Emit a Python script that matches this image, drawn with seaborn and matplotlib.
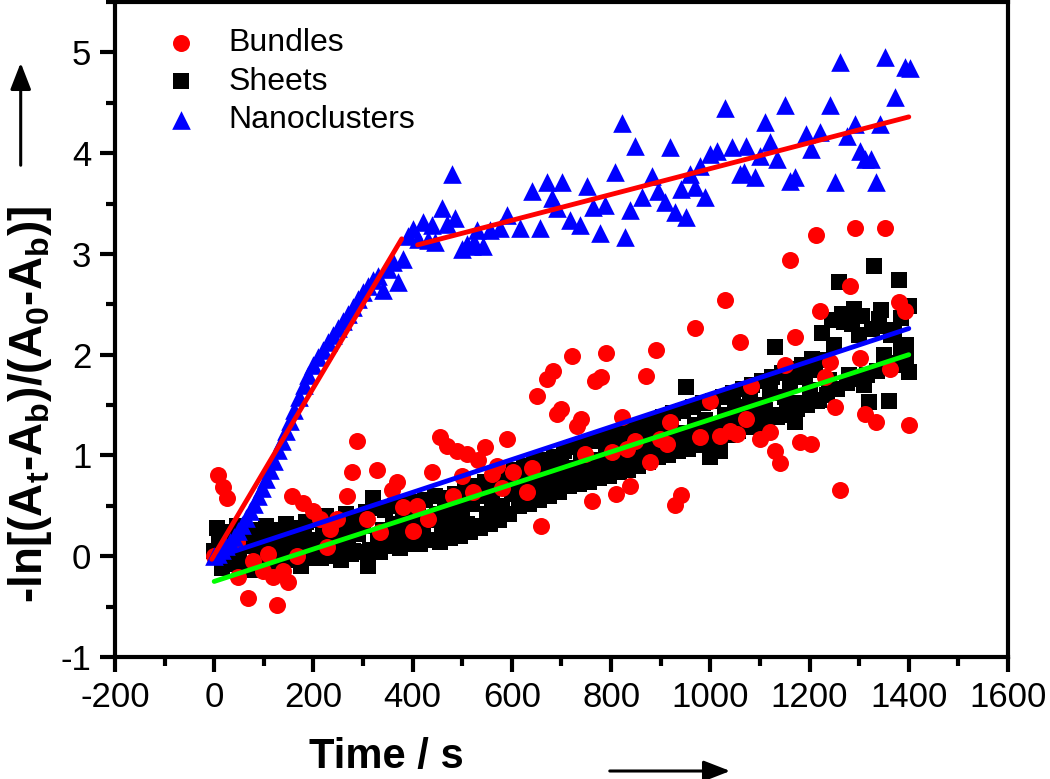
import matplotlib
matplotlib.use('Agg')
import matplotlib.pyplot as plt
from matplotlib.patches import FancyArrowPatch
from matplotlib.ticker import MultipleLocator
import seaborn as sns
import pandas as pd

# ---- values ----
# Sheets (black squares): two interleaved runs, every 10 s, plus stray points
sheets_t = (list(range(0, 1401, 10)) + list(range(5, 1400, 10))
            + [1395, 1400, 1265, 1340, 1385])
sheets_y = [
    # t = 0 .. 1400 step 10
    0.05, 0.18, -0.05, 0.12, 0.22, 0.02, 0.15, -0.08, 0.10, 0.20,
    0.00, 0.14, 0.06, 0.22, -0.04, 0.12, 0.18, 0.05, 0.24, 0.10,
    0.16, 0.02, 0.25, 0.12, 0.20, 0.08, 0.28, 0.15, 0.05, 0.22,
    0.30, -0.10, 0.58, 0.18, 0.26, 0.10, 0.32, 0.20, 0.35, 0.14,
    0.28, 0.40, 0.22, 0.36, 0.16, 0.42, 0.30, 0.45, 0.25, 0.38,
    0.48, 0.32, 0.52, 0.30, 0.60, 0.42, 0.55, 0.68, 0.50, 0.72,
    0.62, 0.78, 0.58, 0.70, 0.84, 0.65, 0.76, 0.90, 0.70, 0.82,
    0.95, 0.74, 0.88, 0.80, 1.00, 0.85, 0.78, 0.96, 0.90, 1.04,
    0.88, 1.08, 0.95, 1.12, 0.92, 1.02, 1.15, 0.98, 1.10, 1.22,
    1.05, 1.18, 1.28, 1.10, 1.22, 1.68, 1.15, 1.30, 1.20, 1.35,
    0.98, 1.28, 1.04, 1.40, 1.25, 1.48, 1.32, 1.42, 1.55, 1.36,
    1.50, 1.45, 1.62, 2.08, 1.40, 1.58, 1.70, 1.33, 1.52, 1.78,
    1.65, 1.85, 1.55, 1.95, 1.75, 2.10, 2.72, 2.32, 1.80, 2.45,
    2.20, 1.70, 1.53, 2.88, 2.35, 2.00, 1.54, 2.25, 2.74, 1.90,
    2.48,
    # t = 5 .. 1395 step 10
    0.28, -0.12, 0.24, -0.08, 0.30, -0.10, 0.22, -0.14, 0.26, -0.06,
    0.30, -0.08, 0.26, -0.12, 0.32, -0.04, 0.28, -0.10, 0.34, -0.02,
    0.36, -0.02, 0.40, 0.00, 0.34, -0.04, 0.42, 0.02, 0.38, 0.04,
    0.44, 0.06, 0.48, 0.04, 0.46, 0.10, 0.50, 0.08, 0.52, 0.12,
    0.54, 0.12, 0.56, 0.16, 0.60, 0.14, 0.58, 0.18, 0.62, 0.20,
    0.66, 0.24, 0.70, 0.28, 0.74, 0.32, 0.78, 0.36, 0.80, 0.42,
    0.86, 0.50, 0.90, 0.52, 0.94, 0.56, 0.96, 0.60, 0.98, 0.64,
    1.04, 0.70, 1.08, 0.72, 1.10, 0.74, 1.14, 0.78, 1.16, 0.80,
    1.20, 0.84, 1.24, 0.86, 1.26, 0.90, 1.30, 0.94, 1.34, 0.98,
    1.38, 1.00, 1.42, 1.04, 1.44, 1.06, 1.48, 1.10, 1.52, 1.12,
    1.54, 1.16, 1.58, 1.20, 1.62, 1.24, 1.66, 1.28, 1.70, 1.30,
    1.74, 1.34, 1.78, 1.38, 1.82, 1.42, 1.86, 1.46, 1.90, 1.50,
    1.96, 1.54, 2.22, 1.60, 2.34, 1.66, 2.40, 1.72, 2.30, 1.76,
    2.38, 1.80, 2.26, 1.84, 2.44, 1.88, 2.20, 1.92, 2.36, 1.96,
    # stray points
    2.10, 1.83, 2.40, 2.28, 2.05,
]

# Bundles (red circles)
bundles_t = [0, 8, 18, 26, 46, 48, 69, 79, 99, 109, 119, 127, 139, 149, 157,
             167, 179, 200, 214, 228, 234, 248, 268, 278, 288, 308, 329, 335,
             359, 369, 381, 401, 409, 431, 439, 456, 470, 482, 490, 500, 510,
             522, 532, 546, 560, 570, 580, 590, 603, 631, 641, 651, 659, 671,
             682, 691, 700, 721, 732, 740, 748, 761, 768, 780, 790, 802, 810,
             821, 832, 839, 849, 870, 879, 890, 899, 913, 919, 929, 940, 970,
             980, 1000, 1020, 1030, 1040, 1054, 1060, 1071, 1081, 1101, 1121,
             1131, 1141, 1151, 1161, 1171, 1181, 1202, 1212, 1222, 1232, 1242,
             1252, 1262, 1282, 1292, 1302, 1312, 1333, 1353, 1363, 1380, 1393,
             1400]
bundles_y = [0.00, 0.81, 0.69, 0.58, 0.14, -0.21, -0.41, -0.05, -0.15, 0.02,
             -0.21, -0.48, -0.15, -0.26, 0.60, 0.00, 0.53, 0.45, 0.37, 0.09,
             0.27, 0.37, 0.60, 0.84, 1.14, 0.37, 0.86, 0.24, 0.66, 0.74, 0.49,
             0.25, 0.50, 0.37, 0.84, 1.18, 1.09, 0.60, 1.04, 0.80, 1.01, 0.64,
             0.96, 1.08, 0.82, 0.90, 0.68, 1.16, 0.84, 0.64, 0.88, 1.59, 0.30,
             1.76, 1.84, 1.41, 1.46, 1.99, 1.29, 1.36, 1.01, 0.55, 1.74, 1.78,
             2.02, 1.03, 0.62, 1.38, 1.06, 0.70, 1.14, 1.79, 0.94, 2.05, 1.16,
             1.11, 1.33, 0.51, 0.61, 2.27, 1.18, 1.54, 1.19, 2.54, 1.24, 1.21,
             2.13, 1.36, 1.69, 1.16, 1.23, 1.04, 0.93, 1.90, 2.94, 2.18, 1.13,
             1.11, 3.19, 2.43, 1.78, 1.93, 1.48, 0.66, 2.68, 3.26, 1.97, 1.41,
             1.33, 3.26, 1.86, 2.52, 2.43, 1.30]

# Nanoclusters (blue triangles)
nano_t = [0, 8, 16, 24, 32, 40, 48, 56, 64, 72, 80, 88, 96, 104, 112, 120,
          128, 136, 144, 152, 160, 170, 180, 190, 200, 210, 220, 230, 240, 250,
          260, 270, 280, 290, 300, 310, 320, 330, 340, 350, 360, 370, 380, 390,
          400, 410, 421, 431, 440, 445, 460, 470, 480, 486, 500, 510, 520, 526,
          530, 542, 556, 577, 590, 617, 641, 657, 671, 681, 691, 702, 718, 738,
          752, 764, 778, 788, 808, 822, 828, 839, 849, 863, 883, 895, 909, 919,
          929, 940, 950, 960, 970, 980, 990, 1000, 1014, 1030, 1044, 1060,
          1067, 1071, 1091, 1101, 1111, 1121, 1135, 1151, 1161, 1171, 1192,
          1202, 1222, 1242, 1252, 1262, 1276, 1292, 1302, 1312, 1323, 1333,
          1343, 1353, 1373, 1393, 1403]
nano_y = [0.00, 0.02, 0.06, 0.10, 0.14, 0.19, 0.25, 0.31, 0.38, 0.45, 0.52,
          0.60, 0.68, 0.77, 0.86, 0.95, 1.05, 1.14, 1.24, 1.34, 1.45, 1.58,
          1.70, 1.80, 1.90, 1.98, 2.05, 2.13, 2.20, 2.27, 2.33, 2.40, 2.47,
          2.55, 2.62, 2.68, 2.74, 2.78, 2.64, 2.85, 2.92, 2.72, 2.95, 3.18,
          3.25, 3.15, 3.32, 3.14, 3.29, 3.12, 3.46, 3.30, 3.79, 3.36, 3.05,
          3.10, 3.08, 3.10, 3.24, 3.08, 3.24, 3.26, 3.39, 3.26, 3.62, 3.26,
          3.71, 3.56, 3.46, 3.71, 3.34, 3.29, 3.67, 3.47, 3.21, 3.49, 3.81,
          4.30, 3.17, 3.44, 4.07, 3.57, 3.77, 3.62, 3.52, 4.06, 3.42, 3.64,
          3.37, 3.79, 3.66, 3.87, 3.57, 3.99, 4.02, 4.45, 4.06, 3.79, 3.81,
          4.07, 3.76, 3.97, 4.31, 4.11, 3.94, 4.48, 3.72, 3.76, 4.19, 4.04,
          4.21, 4.48, 3.71, 4.90, 4.17, 4.29, 4.02, 3.94, 3.94, 3.71, 4.29,
          4.95, 4.56, 4.86, 4.85]

# linear fits (end points)
fit_nano1_t, fit_nano1_y = [-5, 378], [-0.03, 3.15]
fit_nano2_t, fit_nano2_y = [410, 1400], [3.09, 4.36]
fit_blue_t, fit_blue_y = [10, 1400], [0.00, 2.26]
fit_green_t, fit_green_y = [0, 1400], [-0.25, 2.00]

sns.set_style('white')
plt.rcParams['font.family'] = ['Liberation Sans', 'DejaVu Sans']
plt.rcParams['mathtext.fontset'] = 'custom'
plt.rcParams['mathtext.rm'] = 'Liberation Sans'
plt.rcParams['mathtext.bf'] = 'Liberation Sans:bold'
plt.rcParams['axes.unicode_minus'] = False
plt.rcParams['text.color'] = 'black'
plt.rcParams['xtick.color'] = 'black'
plt.rcParams['ytick.color'] = 'black'

fig = plt.figure(figsize=(10.5, 7.79), dpi=100)
ax = fig.add_axes([0.1095, 0.1566, 0.8505, 0.8408])

sheets = pd.DataFrame({'t': sheets_t, 'y': sheets_y})
bundles = pd.DataFrame({'t': bundles_t, 'y': bundles_y})
nano = pd.DataFrame({'t': nano_t, 'y': nano_y})

sns.scatterplot(data=sheets, x='t', y='y', ax=ax, marker='s', s=130,
                color='black', linewidth=0, label='Sheets', zorder=2)
sns.scatterplot(data=bundles, x='t', y='y', ax=ax, marker='o', s=150,
                color='red', linewidth=0, label='Bundles', zorder=3)
sns.scatterplot(data=nano, x='t', y='y', ax=ax, marker='^', s=180,
                color='blue', linewidth=0, label='Nanoclusters', zorder=4)

for xs, ys, c in [(fit_nano1_t, fit_nano1_y, 'red'),
                  (fit_nano2_t, fit_nano2_y, 'red'),
                  (fit_blue_t, fit_blue_y, 'blue'),
                  (fit_green_t, fit_green_y, '#00ff00')]:
    ax.plot(xs, ys, color=c, lw=3.5, solid_capstyle='round', zorder=5)

ax.set_xlim(-200, 1600)
ax.set_ylim(-1, 5.5)
ax.xaxis.set_major_locator(MultipleLocator(200))
ax.xaxis.set_minor_locator(MultipleLocator(100))
ax.yaxis.set_major_locator(MultipleLocator(1))
ax.yaxis.set_minor_locator(MultipleLocator(0.5))
ax.tick_params(which='both', direction='out', width=3, labelsize=25,
               bottom=True, left=True, top=False, right=False,
               colors='black', pad=6)
ax.tick_params(which='major', length=11)
ax.tick_params(which='minor', length=6.5)
for sp in ax.spines.values():
    sp.set_linewidth(3)
    sp.set_color('black')
ax.set_xlabel('')
ax.set_ylabel('')

h, l = ax.get_legend_handles_labels()
order = [l.index('Bundles'), l.index('Sheets'), l.index('Nanoclusters')]
ax.legend([h[i] for i in order], [l[i] for i in order], frameon=False,
          loc='upper left', bbox_to_anchor=(0.157, 0.964),
          bbox_transform=fig.transFigure, fontsize=23, handlelength=1,
          handletextpad=1.0, labelspacing=0.27, borderpad=0, borderaxespad=0)

fig.text(30 / 1050, 1 - 404 / 779,
         r'-ln[(A$_\mathbf{t}$-A$_\mathbf{b}$)/(A$_\mathbf{0}$-A$_\mathbf{b}$)]',
         rotation=90, ha='center', va='center', fontsize=33, fontweight='bold')
fig.text(386 / 1050, 1 - 757 / 779, 'Time / s', ha='center', va='center',
         fontsize=30, fontweight='bold')

arrow_kw = dict(arrowstyle='-|>,head_length=0.9,head_width=0.35', lw=2.2,
                color='black', mutation_scale=18, transform=fig.transFigure)
fig.add_artist(FancyArrowPatch((20.7 / 1050, 1 - 168 / 779),
                               (20.7 / 1050, 1 - 60 / 779), **arrow_kw))
fig.add_artist(FancyArrowPatch((607 / 1050, 1 - 771 / 779),
                               (733 / 1050, 1 - 771 / 779), **arrow_kw))

fig.savefig('out.png', dpi=100)
